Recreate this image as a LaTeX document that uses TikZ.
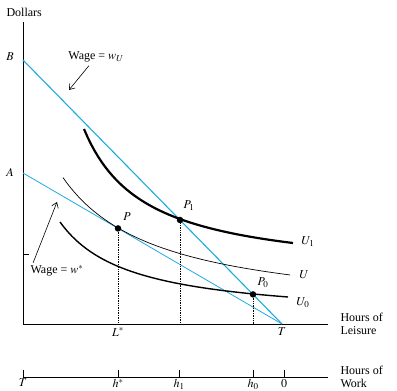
\documentclass[tikz,border=0pt]{standalone}
\usepackage{mathptmx}
\usepackage{fontspec}
\setmainfont{Liberation Serif}
\usetikzlibrary{arrows.meta}
\definecolor{wageblue}{RGB}{30,170,225}

\begin{document}
\begin{tikzpicture}[x=10pt, y=10pt, >={Straight Barb[length=5pt, width=7pt]}, font=\fontsize{12}{13}\selectfont,
    wage/.style={wageblue, line width=0.8pt},
    drop/.style={densely dotted, line width=0.7pt},
    dot/.style={circle, fill, inner sep=0pt, minimum size=6.5pt}]
    \useasboundingbox (-2.3,-6.7) rectangle (37.4,32.4);

    % axes
    \coordinate (O) at (0,0);
    \draw[line width=0.8pt] (0,30.2) -- (O) -- (30.5,0);
    \draw[line width=0.8pt] (O) ++(0,7.0) -- ++(0.6,0);
    \node[anchor=west] (dollars) at (-2.0,31.2) {Dollars};
    \node[align=left, anchor=west] (leisure) at (31.4,0) {Hours of\\Leisure};

    % budget lines
    \coordinate (B) at (0,26.4);
    \coordinate (A) at (0,15.1);
    \coordinate (T) at (25.9,0);
    \node (Blab) at (-1.3,26.7) {$B$};
    \node (Alab) at (-1.3,15.2) {$A$};
    \node[below] (Tlab) at (T) {$T$};
    \draw[wage, line width=1.1pt] (B) -- (T);
    \draw[wage] (A) -- (T);

    % indifference curves
    \draw[line width=2.2pt] plot[domain=6.1:27.0, samples=60] (\x, {4.76+90.2/(\x+0.02)});
    \draw[line width=0.7pt] plot[domain=4.0:26.7, samples=60] (\x, {0.76+134.2/(\x+5.67)});
    \draw[line width=1.4pt] plot[domain=3.7:26.5, samples=60] (\x, {0.39+68.9/(\x+3.32)});
    \node[anchor=west] (U1lab) at (27.5,8.2) {$U_1$};
    \node[anchor=west] (Ulab) at (27.3,4.9) {$U$};
    \node[anchor=west] (U0lab) at (27.0,2.1) {$U_0$};

    % points
    \coordinate (P) at (9.5,9.56);
    \coordinate (P1) at (15.7,10.4);
    \coordinate (P0) at (23.0,2.96);
    \node[dot] (Pdot) at (P) {};
    \node[dot] (P1dot) at (P1) {};
    \node[dot] (P0dot) at (P0) {};
    \node (Plab) at (10.4,10.7) {$P$};
    \node (P1lab) at (16.6,11.8) {$P_1$};
    \node (P0lab) at (24.0,4.1) {$P_0$};
    \draw[drop] (P) -- (P |- O);
    \draw[drop] (P1) -- (P1 |- O);
    \draw[drop] (P0) -- (P0 |- O);
    \node[below] (Lstar) at (P |- O) {$L^*$};

    % wage labels
    \node (wUlab) at (7.3,26.7) {Wage = $w_U$};
    \coordinate (wUtip) at (4.6,23.4);
    \draw[->, line width=0.6pt] (wUlab) -- (wUtip);
    \node (wslab) at (3.4,5.3) {Wage = $w^*$};
    \coordinate (wstip) at (3.4,12.2);
    \draw[->, line width=0.6pt] ([xshift=6pt, yshift=-1pt]wslab.north west) -- (wstip);

    % hours of work axis
    \draw[line width=0.8pt] (0,-5.3) -- (30.5,-5.3);
    \foreach \x/\lab [count=\i] in {0/T, 9.5/h^*, 15.6/h_1, 23.0/h_0, 26.1/0} {
        \draw[line width=0.8pt] (\x,-5.3) -- (\x,-4.6);
        \node[below, inner sep=2pt] (work\i) at (\x,-5.3) {$\lab$};
    }
    \node[align=left, anchor=west] (work) at (31.4,-5.3) {Hours of\\Work};
\end{tikzpicture}
\end{document}
